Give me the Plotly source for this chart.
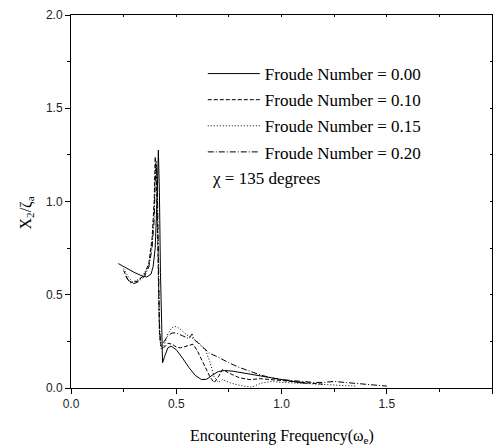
import plotly.graph_objects as go

# Froude Number = 0.00 (solid)
x_fn000 = [0.225, 0.26, 0.30, 0.34, 0.36, 0.38, 0.39, 0.40, 0.405, 0.41, 0.415, 0.42, 0.425, 0.43, 0.435, 0.445,
           0.46, 0.475, 0.50, 0.53, 0.56, 0.59, 0.62, 0.645, 0.67, 0.70, 0.73, 0.77, 0.82, 0.87, 0.92, 0.97, 1.02, 1.08, 1.12]
y_fn000 = [0.667, 0.645, 0.62, 0.60, 0.595, 0.61, 0.65, 0.75, 0.88, 1.05, 1.276, 1.05, 0.62, 0.28, 0.135, 0.17,
           0.215, 0.225, 0.205, 0.16, 0.11, 0.068, 0.045, 0.047, 0.068, 0.088, 0.094, 0.09, 0.08, 0.07, 0.058, 0.048, 0.04, 0.03, 0.025]

# Froude Number = 0.10 (dashed)
x_fn010 = [0.25, 0.27, 0.29, 0.32, 0.35, 0.37, 0.385, 0.395, 0.40, 0.405, 0.41, 0.415, 0.42, 0.425, 0.43, 0.44,
           0.46, 0.48, 0.50, 0.52, 0.55, 0.58, 0.60, 0.63, 0.66, 0.68, 0.70, 0.72, 0.75, 0.80, 0.85, 0.90, 0.95,
           1.0, 1.05, 1.1, 1.15, 1.2]
y_fn010 = [0.63, 0.58, 0.565, 0.575, 0.61, 0.67, 0.8, 1.0, 1.24, 1.15, 0.9, 0.55, 0.3, 0.24, 0.22, 0.215,
           0.24, 0.235, 0.22, 0.215, 0.225, 0.235, 0.2, 0.13, 0.06, 0.028, 0.06, 0.1, 0.08, 0.055, 0.045, 0.05, 0.045,
           0.04, 0.035, 0.03, 0.025, 0.02]

# Froude Number = 0.15 (dotted)
x_fn015 = [0.25, 0.27, 0.29, 0.31, 0.34, 0.37, 0.385, 0.395, 0.40, 0.405, 0.41, 0.415, 0.42, 0.425, 0.43, 0.44,
           0.46, 0.48, 0.50, 0.52, 0.55, 0.58, 0.61, 0.64, 0.66, 0.68, 0.70, 0.72, 0.75, 0.78, 0.82, 0.86, 0.9,
           0.95, 1.0, 1.1, 1.2, 1.3, 1.35]
y_fn015 = [0.64, 0.6, 0.57, 0.575, 0.6, 0.66, 0.78, 0.95, 1.15, 1.22, 1.0, 0.6, 0.32, 0.23, 0.205, 0.22,
           0.29, 0.325, 0.33, 0.315, 0.285, 0.265, 0.24, 0.2, 0.14, 0.06, 0.03, 0.045, 0.03, 0.02, 0.01, 0.005, 0.025,
           0.035, 0.03, 0.025, 0.02, 0.015, 0.01]

# Froude Number = 0.20 (dash-dot)
x_fn020 = [0.26, 0.28, 0.30, 0.32, 0.35, 0.37, 0.385, 0.395, 0.40, 0.405, 0.41, 0.415, 0.42, 0.425, 0.43, 0.44,
           0.46, 0.48, 0.50, 0.53, 0.56, 0.575, 0.585, 0.60, 0.63, 0.66, 0.70, 0.75, 0.80, 0.85, 0.90, 0.95,
           1.0, 1.05, 1.1, 1.15, 1.2, 1.25, 1.3, 1.35, 1.4, 1.45, 1.5]
y_fn020 = [0.6, 0.565, 0.56, 0.57, 0.6, 0.65, 0.75, 0.9, 1.1, 1.2, 1.1, 0.7, 0.35, 0.25, 0.24, 0.245,
           0.28, 0.295, 0.295, 0.28, 0.265, 0.29, 0.26, 0.245, 0.215, 0.185, 0.165, 0.135, 0.11, 0.09, 0.07, 0.055,
           0.045, 0.04, 0.035, 0.03, 0.03, 0.035, 0.03, 0.025, 0.02, 0.012, 0.01]

series_names = ["Froude Number = 0.00", "Froude Number = 0.10", "Froude Number = 0.15", "Froude Number = 0.20"]
series_x = [x_fn000, x_fn010, x_fn015, x_fn020]
series_y = [y_fn000, y_fn010, y_fn015, y_fn020]
dashes = ["solid", "4px,2px", "1px,2px", "6px,2px,1px,2px"]

x_ticks = [0.0, 0.5, 1.0, 1.5, 2.0]
y_ticks = [0.0, 0.5, 1.0, 1.5, 2.0]
tick_text = ["0.0", "0.5", "1.0", "1.5", "2.0"]

fig = go.Figure()
for i, (nm, xs, ys, d) in enumerate(zip(series_names, series_x, series_y, dashes)):
    fig.add_trace(go.Scatter(x=xs, y=ys, mode="lines", name=nm, legendgroup=str(i),
                             line=dict(color="black", width=1, dash=d)))

# overlay axes for inward ticks on top and right
fig.add_trace(go.Scatter(x=[None], y=[None], xaxis="x2", yaxis="y2", showlegend=False, hoverinfo="skip"))

serif = "Liberation Serif"
sans = "Liberation Sans"

fig.update_layout(
    width=500, height=448,
    margin=dict(l=71, r=8, t=13, b=60),
    paper_bgcolor="white", plot_bgcolor="white",
    showlegend=True,
    legend=dict(x=0.313, y=0.89, xanchor="left", yanchor="top", bgcolor="rgba(0,0,0,0)",
                font=dict(family=serif, size=17, color="black"), itemwidth=52,
                tracegroupgap=1),
    xaxis=dict(range=[0, 2], tickvals=x_ticks, ticktext=tick_text, ticks="outside", ticklen=5,
               tickwidth=1, tickcolor="black", showline=True, linecolor="black", linewidth=1,
               showgrid=False, zeroline=False, tickfont=dict(family=sans, size=12, color="#222"),
               minor=dict(dtick=0.25, ticks="outside", ticklen=3, tickcolor="black", tickwidth=1)),
    yaxis=dict(range=[0, 2], tickvals=y_ticks, ticktext=tick_text, ticks="outside", ticklen=5,
               tickwidth=1, tickcolor="black", showline=True, linecolor="black", linewidth=1,
               showgrid=False, zeroline=False, tickfont=dict(family=sans, size=12, color="#222"),
               minor=dict(dtick=0.25, ticks="outside", ticklen=3, tickcolor="black", tickwidth=1)),
    xaxis2=dict(range=[0, 2], overlaying="x", side="top", dtick=0.25, ticks="inside", ticklen=2,
                tickcolor="black", showticklabels=False, showline=True, linecolor="black",
                linewidth=1, showgrid=False, zeroline=False),
    yaxis2=dict(range=[0, 2], overlaying="y", side="right", dtick=0.25, ticks="inside", ticklen=2,
                tickcolor="black", showticklabels=False, showline=True, linecolor="black",
                linewidth=1, showgrid=False, zeroline=False),
    annotations=[
        dict(text="χ = 135 degrees", x=0.331, y=0.563, xref="paper", yref="paper",
             xanchor="left", yanchor="middle", showarrow=False,
             font=dict(family=serif, size=17, color="black")),
        dict(text="Encountering Frequency(ω<sub>e</sub>)", x=0.5, y=-0.13, xref="paper", yref="paper",
             xanchor="center", yanchor="middle", showarrow=False,
             font=dict(family=serif, size=16, color="black")),
        dict(text="X<sub>2</sub>/ζ<sub>a</sub>", x=-0.105, y=0.47, xref="paper", yref="paper",
             xanchor="center", yanchor="middle", showarrow=False, textangle=-90,
             font=dict(family=serif, size=16, color="black")),
    ],
)

fig.write_html("out.html")
